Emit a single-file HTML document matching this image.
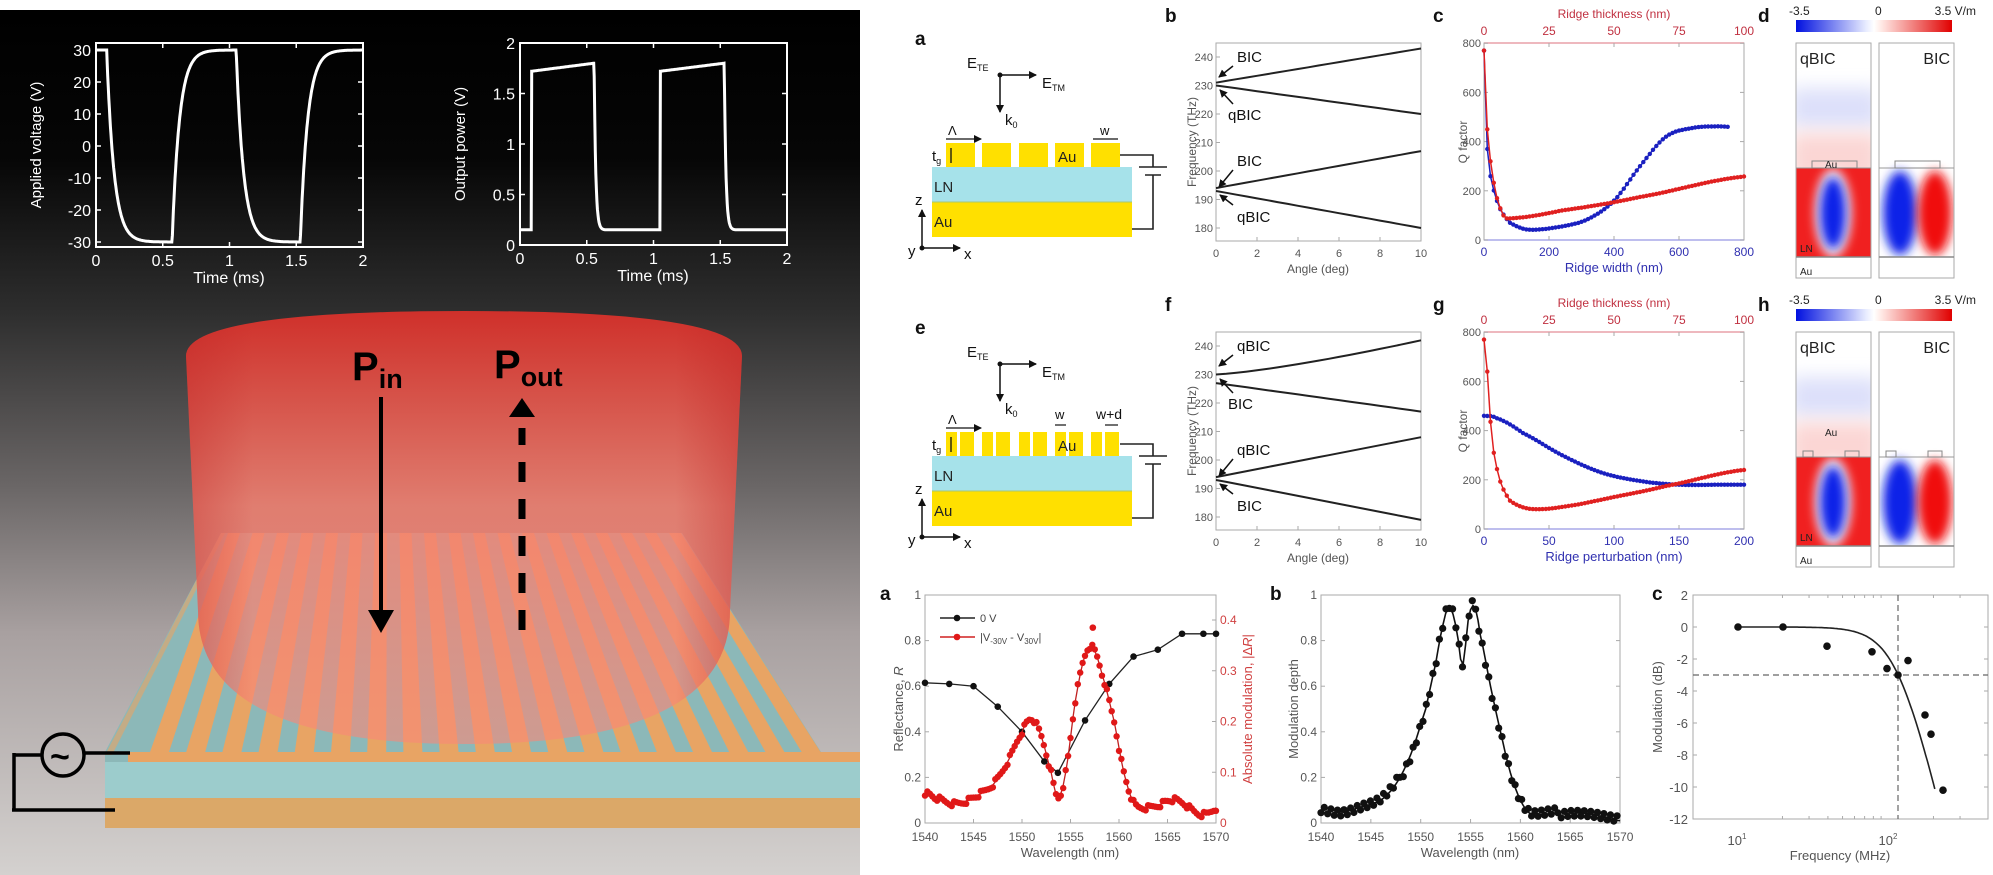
<!DOCTYPE html>
<html><head><meta charset="utf-8">
<style>
html,body{margin:0;padding:0;background:#fff;}
svg{display:block;}
text{font-family:"Liberation Sans",sans-serif;}
</style></head>
<body>
<svg id="s" width="1993" height="875" viewBox="0 0 1993 875" xmlns="http://www.w3.org/2000/svg">
<defs>
<linearGradient id="bg" x1="0" y1="0" x2="0" y2="1">
<stop offset="0" stop-color="#000"/>
<stop offset="0.17" stop-color="#060606"/>
<stop offset="0.35" stop-color="#2e2e2e"/>
<stop offset="0.55" stop-color="#6a6666"/>
<stop offset="0.72" stop-color="#a8a0a0"/>
<stop offset="1" stop-color="#d4d1cf"/>
</linearGradient>
<linearGradient id="cyl" x1="0" y1="0" x2="0" y2="1">
<stop offset="0" stop-color="#d8302a" stop-opacity="0.95"/>
<stop offset="0.45" stop-color="#f48070" stop-opacity="0.85"/>
<stop offset="1" stop-color="#f88878" stop-opacity="0.6"/>
</linearGradient>
<linearGradient id="cylside" x1="0" y1="0" x2="1" y2="0">
<stop offset="0" stop-color="#c02020" stop-opacity="0.35"/>
<stop offset="0.12" stop-color="#c02020" stop-opacity="0"/>
<stop offset="0.88" stop-color="#c02020" stop-opacity="0"/>
<stop offset="1" stop-color="#c02020" stop-opacity="0.4"/>
</linearGradient>
<linearGradient id="cb" x1="0" y1="0" x2="1" y2="0">
<stop offset="0" stop-color="#0010e0"/>
<stop offset="0.45" stop-color="#e8ecff"/>
<stop offset="0.5" stop-color="#fff"/>
<stop offset="0.55" stop-color="#ffe8e4"/>
<stop offset="1" stop-color="#e00000"/>
</linearGradient>
<filter id="bl" x="-50%" y="-50%" width="200%" height="200%"><feGaussianBlur stdDeviation="9"/></filter>
<filter id="bl2" x="-50%" y="-50%" width="200%" height="200%"><feGaussianBlur stdDeviation="5"/></filter>
<clipPath id="cq1"><rect x="1796" y="43" width="75" height="235"/></clipPath>
<clipPath id="cb1"><rect x="1879" y="43" width="75" height="235"/></clipPath>
<clipPath id="cq2"><rect x="1796" y="332" width="75" height="235"/></clipPath>
<clipPath id="cb2"><rect x="1879" y="332" width="75" height="235"/></clipPath>
<marker id="ah" markerWidth="8" markerHeight="8" refX="7" refY="4" orient="auto" markerUnits="userSpaceOnUse"><path d="M0,0 L8,4 L0,8 z" fill="#111"/></marker>
</defs>
<g id="g"></g>
</svg>
<script>
var o=[];
function P(s){o.push(s);}
function T(x,y,t,a){P('<text x="'+x+'" y="'+y+'" '+(a||'')+'>'+t+'</text>');}
function L(x1,y1,x2,y2,a){P('<line x1="'+x1+'" y1="'+y1+'" x2="'+x2+'" y2="'+y2+'" '+(a||'stroke="#111" stroke-width="1.5"')+'/>');}
function path(pts){var s='';for(var i=0;i<pts.length;i++){s+=(i?'L':'M')+pts[i][0].toFixed(1)+','+pts[i][1].toFixed(1);}return s;}
function interp(arr,x){for(var i=0;i<arr.length-1;i++){if(x<=arr[i+1][0]){var t=(x-arr[i][0])/(arr[i+1][0]-arr[i][0]);return arr[i][1]+t*(arr[i+1][1]-arr[i][1]);}}return arr[arr.length-1][1];}
function smooth(arr,x){ // catmull-rom
 var n=arr.length;for(var i=0;i<n-1;i++){if(x<=arr[i+1][0]||i==n-2){var p0=arr[Math.max(i-1,0)],p1=arr[i],p2=arr[i+1],p3=arr[Math.min(i+2,n-1)];var t=(x-p1[0])/(p2[0]-p1[0]);var t2=t*t,t3=t2*t;return 0.5*((2*p1[1])+(-p0[1]+p2[1])*t+(2*p0[1]-5*p1[1]+4*p2[1]-p3[1])*t2+(-p0[1]+3*p1[1]-3*p2[1]+p3[1])*t3);}}}

/* ===== LEFT PANEL ===== */
P('<rect x="0" y="10" width="860" height="865" fill="url(#bg)"/>');
// slab bottom orange
P('<polygon points="105,798 860,798 860,828 105,828" fill="#dba868"/>');
P('<polygon points="105,762 860,762 860,798 105,798" fill="#9ccccc"/>');
// slab top face (cyan)
P('<polygon points="221,533 682,533 821,752 860,752 860,762 105,762 105,752" fill="#8cb8b8"/>');
// stripes
var N=19;
for(var i=0;i<N;i++){var bx=228+i*24.5, fx=150+i*36.2;
 P('<polygon points="'+bx+',533 '+(bx+12)+',533 '+(fx+19)+',752 '+fx+',752" fill="#e8a464"/>');}
P('<polygon points="128,752 860,752 860,762 128,762" fill="#e8a464"/>');
P('<polygon points="105,755 221,533 225,533 112,755" fill="#e8a464" opacity="0.6"/>');
// cylinder
P('<path d="M186,356 Q186,311 464,311 Q742,311 742,356 L730,611 Q730,744 464,744 Q198,744 198,611 Z" fill="url(#cyl)"/>');
P('<path d="M186,356 Q186,311 464,311 Q742,311 742,356 L730,611 Q730,744 464,744 Q198,744 198,611 Z" fill="url(#cylside)"/>');
// arrows
P('<text x="352" y="380" font-size="40" font-weight="bold" fill="#000">P<tspan font-size="27" dy="8">in</tspan></text>');
P('<text x="494" y="378" font-size="40" font-weight="bold" fill="#000">P<tspan font-size="27" dy="8">out</tspan></text>');
L(381,397,381,612,'stroke="#000" stroke-width="4"');
P('<polygon points="368,610 394,610 381,633" fill="#000"/>');
L(522,630,522,428,'stroke="#000" stroke-width="7" stroke-dasharray="20,17"');
P('<polygon points="509,417 535,417 522,398" fill="#000"/>');
// circuit
P('<circle cx="63" cy="755" r="21" fill="none" stroke="#000" stroke-width="3.5"/>');
T(50,768,'~','font-size="34" font-weight="bold" fill="#000"');
L(84,753,130,753,'stroke="#000" stroke-width="3.5"');
L(42,755,14,755,'stroke="#000" stroke-width="3.5"');
L(14,753,14,811,'stroke="#000" stroke-width="3.5"');
L(12,810,115,810,'stroke="#000" stroke-width="3.5"');
// insets
function inset(x0,yT,yB,ylab,ticks,fy,data){
 P('<rect x="'+x0+'" y="'+yT+'" width="267" height="'+(yB-yT)+'" fill="none" stroke="#fff" stroke-width="2"/>');
 for(var t=0;t<=4;t++){var x=x0+t*66.75;L(x,yB,x,yB-5,'stroke="#fff" stroke-width="1.5"');L(x,yT,x,yT+5,'stroke="#fff" stroke-width="1.5"');
  T(x,yB+19,['0','0.5','1','1.5','2'][t],'font-size="16" fill="#fff" text-anchor="middle" font-family="DejaVu Sans"');}
 ticks.forEach(function(v){var y=fy(v);L(x0,y,x0+5,y,'stroke="#fff" stroke-width="1.5"');L(x0+267,y,x0+262,y,'stroke="#fff" stroke-width="1.5"');
  T(x0-5,y+6,v,'font-size="16" fill="#fff" text-anchor="end" font-family="DejaVu Sans"');});
 T(x0+133,yB+36,'Time (ms)','font-size="16" fill="#fff" text-anchor="middle" font-family="DejaVu Sans"');
 var cy=(yT+yB)/2;T(x0-55,cy,ylab,'font-size="15" fill="#fff" text-anchor="middle" transform="rotate(-90 '+(x0-55)+' '+cy+')"');
 P('<path d="'+path(data)+'" fill="none" stroke="#fff" stroke-width="3"/>');
}
var d1=[],d2=[];
function volt(t){var tau=0.055;
 if(t<0.08)return 30; if(t<0.57)return -30+60*Math.exp(-(t-0.08)/tau);
 var vA=-30+60*Math.exp(-(0.49)/tau);
 if(t<1.05)return 30-(30-vA)*Math.exp(-(t-0.57)/tau);
 var vB=30-(30-vA)*Math.exp(-0.48/tau);
 if(t<1.53)return -30+(vB+30)*Math.exp(-(t-1.05)/tau);
 var vC=-30+(vB+30)*Math.exp(-0.48/tau);
 return 30-(30-vC)*Math.exp(-(t-1.53)/tau);}
function pw(t){if(t<0.085)return 0.15; if(t<0.555)return 1.72+0.08*(t-0.085)/0.47;
 if(t<1.05)return 0.15+1.65*Math.exp(-(t-0.555)/0.012); if(t<1.53)return 1.72+0.08*(t-1.05)/0.48;
 return 0.15+1.65*Math.exp(-(t-1.53)/0.012);}
for(var t=0;t<=2.0001;t+=0.004){d1.push([96+t*133.5,146-volt(t)*3.2]);d2.push([520+t*133.5,245-pw(t)*101]);}
// sharpen vertical steps for pw
inset(96,43,247,'Applied voltage (V)',[30,20,10,0,-10,-20,-30],function(v){return 146-v*3.2;},d1);
inset(520,43,245,'Output power (V)',[0,0.5,1,1.5,2],function(v){return 245-v*101;},d2);

/* ===== RIGHT: schematic a / e ===== */
function schem(R,e){
 T(915,45+R,e?'e':'a','font-size="19" font-weight="bold" fill="#111"');
 T(967,68+R,'E<tspan font-size="9" dy="3">TE</tspan>','font-size="15" fill="#111"');
 L(1000,75+R,1036,75+R,'stroke="#111" stroke-width="1.5" marker-end="url(#ah)"');
 L(1000,75+R,1000,112+R,'stroke="#111" stroke-width="1.5" marker-end="url(#ah)"');
 P('<circle cx="1000" cy="75'.replace('75',75+R)+'" r="2.5" fill="#111"/>');
 T(1042,88+R,'E<tspan font-size="9" dy="3">TM</tspan>','font-size="15" fill="#111"');
 T(1005,125+R,'k<tspan font-size="9" dy="3">0</tspan>','font-size="15" fill="#111"');
 P('<rect x="932" y="'+(167+R)+'" width="200" height="35" fill="#a6e2ea"/>');
 P('<rect x="932" y="'+(202+R)+'" width="200" height="35" fill="#ffe000"/>');
 L(932,202+R,1132,202+R,'stroke="#a8c870" stroke-width="1"');
 var xs=[946,982,1019,1055,1091];
 xs.forEach(function(x){ if(!e){P('<rect x="'+x+'" y="'+(143+R)+'" width="29" height="24" fill="#ffe000"/>');}
  else{P('<rect x="'+x+'" y="'+(143+R)+'" width="11" height="24" fill="#ffe000"/><rect x="'+(x+14)+'" y="'+(143+R)+'" width="14" height="24" fill="#ffe000"/>');}});
 T(1058,162+R,'Au','font-size="15" fill="#222"');
 T(934,192+R,'LN','font-size="15" fill="#222"');
 T(934,227+R,'Au','font-size="15" fill="#222"');
 T(932,161+R,'t<tspan font-size="9" dy="3">g</tspan>','font-size="15" fill="#111"');
 L(951,148+R,951,163+R,'stroke="#111" stroke-width="1.3"');
 T(948,135+R,'Λ','font-size="13" fill="#111"');
 L(946,139+R,981,139+R,'stroke="#111" stroke-width="1.3" marker-end="url(#ah)"');
 if(!e){T(1100,135+R,'w','font-size="13" fill="#111"');L(1093,139+R,1118,139+R,'stroke="#111" stroke-width="1.3"');}
 else{T(1055,130+R,'w','font-size="13" fill="#111"');T(1096,130+R,'w+d','font-size="14" fill="#111"');
  L(1055,136+R,1066,136+R,'stroke="#111" stroke-width="1.2"');L(1105,136+R,1118,136+R,'stroke="#111" stroke-width="1.2"');}
 // battery wiring
 P('<path d="M1120,'+(155+R)+' H1153 V'+(167+R)+' M1139,'+(167+R)+' H1167 M1145,'+(175+R)+' H1161 M1153,'+(175+R)+' V'+(229+R)+' H1132" fill="none" stroke="#222" stroke-width="1.6"/>');
 // axes
 L(922,248+R,960,248+R,'stroke="#111" stroke-width="1.5" marker-end="url(#ah)"');
 L(922,248+R,922,210+R,'stroke="#111" stroke-width="1.5" marker-end="url(#ah)"');
 P('<circle cx="922" cy="'+(248+R)+'" r="2.5" fill="#111"/>');
 T(915,205+R,'z','font-size="15" fill="#111"');T(908,256+R,'y','font-size="15" fill="#111"');T(964,259+R,'x','font-size="15" fill="#111"');
}
schem(0,false);schem(289,true);

/* ===== band diagrams b / f ===== */
function band(R,lab,lines,ann){
 T(1165,22+R,lab,'font-size="19" font-weight="bold" fill="#111"');
 P('<rect x="1216" y="'+(43+R)+'" width="205" height="198" fill="none" stroke="#aaa" stroke-width="1"/>');
 var fy=function(v){return 57+R+(240-v)*2.85;};
 [180,190,200,210,220,230,240].forEach(function(v){L(1216,fy(v),1220,fy(v),'stroke="#aaa"');T(1213,fy(v)+4,v,'font-size="11" fill="#555" text-anchor="end"');});
 for(var a=0;a<=10;a+=2){var x=1216+a*20.5;L(x,241+R,x,237+R,'stroke="#aaa"');T(x,257+R,a,'font-size="11" fill="#555" text-anchor="middle"');}
 T(1318,273+R,'Angle (deg)','font-size="12" fill="#555" text-anchor="middle"');
 T(1196,142+R,'Frequency (THz)','font-size="12" fill="#555" text-anchor="middle" transform="rotate(-90 1196 '+(142+R)+')"');
 lines.forEach(function(l){var pts=[];for(var a=0;a<=10;a+=0.5){var v=l[0]+(l[1]-l[0])*(l[2]?Math.pow(a/10,1.3):a/10);pts.push([1216+a*20.5,fy(v)]);}
  P('<path d="'+path(pts)+'" fill="none" stroke="#222" stroke-width="2"/>');});
 ann.forEach(function(n){T(n[0],n[1]+R,n[2],'font-size="15" fill="#111"');L(n[3],n[4]+R,n[5],n[6]+R,'stroke="#111" stroke-width="1.5" marker-end="url(#ah)"');});
}
band(0,'b',[[231,243],[230,220],[194,207],[193,180]],[[1237,62,'BIC',1233,66,1219,77],[1228,120,'qBIC',1233,104,1220,90],[1237,166,'BIC',1233,170,1219,187],[1237,222,'qBIC',1233,205,1220,195]]);
band(289,'f',[[230,242,1],[227,217],[194,208],[193,179]],[[1237,62,'qBIC',1233,66,1219,77],[1228,120,'BIC',1233,104,1220,90],[1237,166,'qBIC',1233,170,1219,187],[1237,222,'BIC',1233,205,1220,195]]);

/* ===== Q factor plots c / g ===== */
function qplot(R,lab,xmax,xlab,red,blue,bend){
 T(1433,22+R,lab,'font-size="19" font-weight="bold" fill="#111"');
 var x0=1484,x1=1744,yT=43+R,yB=240+R;
 P('<rect x="'+x0+'" y="'+yT+'" width="260" height="197" fill="none" stroke="#aaa" stroke-width="1"/>');
 L(x0,yT,x1,yT,'stroke="#e8a0a8" stroke-width="1.5"');L(x0,yB,x1,yB,'stroke="#a8a8e8" stroke-width="1.5"');
 var fy=function(q){return yB-q*0.246;};
 [0,200,400,600,800].forEach(function(q){L(x0,fy(q),x0+4,fy(q),'stroke="#aaa"');L(x1,fy(q),x1-4,fy(q),'stroke="#aaa"');T(x0-3,fy(q)+4,q,'font-size="11" fill="#555" text-anchor="end"');});
 for(var i=0;i<=4;i++){var x=x0+i*65;T(x,yB+16,xmax*i/4,'font-size="12" fill="#3030b0" text-anchor="middle"');T(x,yT-8,25*i,'font-size="12" fill="#c03040" text-anchor="middle"');L(x,yB,x,yB-4,'stroke="#aaa"');L(x,yT,x,yT+4,'stroke="#aaa"');}
 T(1614,yT-25,'Ridge thickness (nm)','font-size="12" fill="#c03040" text-anchor="middle"');
 T(1614,yB+32,xlab,'font-size="13" fill="#3030b0" text-anchor="middle"');
 T(1467,142+R,'Q factor','font-size="12" fill="#555" text-anchor="middle" transform="rotate(-90 1467 '+(142+R)+')"');
 function draw(arr,col,end){var pts=[],dots='';for(var u=0;u<=end;u+=0.0125){var q=smooth(arr,u);pts.push([x0+u*260,fy(q)]);dots+='<circle cx="'+(x0+u*260).toFixed(1)+'" cy="'+fy(q).toFixed(1)+'" r="2.2" fill="'+col+'"/>';}
  P('<path d="'+path(pts)+'" fill="none" stroke="'+col+'" stroke-width="1.5"/>'+dots);}
 draw(blue,'#1a20c0',bend);draw(red,'#e02020',1);
}
qplot(0,'c',800,'Ridge width (nm)',
 [[0,770],[0.0125,450],[0.03,280],[0.05,170],[0.075,100],[0.1,88],[0.3,120],[0.6,175],[1,258]],
 [[0,770],[0.0125,370],[0.03,230],[0.06,130],[0.1,70],[0.17,42],[0.3,55],[0.4,85],[0.5,160],[0.6,300],[0.7,420],[0.8,455],[0.9,462],[0.94,460]],0.94);
qplot(289,'g',200,'Ridge perturbation (nm)',
 [[0,770],[0.0125,640],[0.03,360],[0.06,200],[0.1,115],[0.175,82],[0.3,90],[0.5,130],[0.7,175],[1,240]],
 [[0,460],[0.05,450],[0.15,390],[0.3,300],[0.45,230],[0.6,195],[0.75,180],[0.9,180],[1,180]],1);

/* ===== field maps d / h ===== */
function field(R,lab,q,b){
 T(1758,22+R,lab,'font-size="19" font-weight="bold" fill="#111"');
 P('<rect x="1796" y="'+(20+R)+'" width="156" height="12" fill="url(#cb)"/>');
 T(1789,15+R,'-3.5','font-size="12" fill="#222"');T(1875,15+R,'0','font-size="12" fill="#222"');T(1976,15+R,'3.5 V/m','font-size="12" fill="#222" text-anchor="end"');
 var yT=43+R, yAu=168+R, yLN=257+R, yB=278+R;
 P('<g clip-path="url(#'+q+')">');
 P('<rect x="1796" y="'+yT+'" width="75" height="235" fill="#fff"/>');
 P('<rect x="1790" y="'+(yT+45)+'" width="90" height="40" fill="#dde0fa" filter="url(#bl)"/>');
 P('<rect x="1790" y="'+(yAu-35)+'" width="90" height="50" fill="#fbd6d4" filter="url(#bl)"/>');
 P('<rect x="1796" y="'+yAu+'" width="75" height="'+(yLN-yAu)+'" fill="#f02020"/>');
 P('<ellipse cx="1833" cy="'+(yAu+45)+'" rx="18" ry="44" fill="#fff" filter="url(#bl2)"/>');
 P('<ellipse cx="1833" cy="'+(yAu+45)+'" rx="13" ry="36" fill="#1020e8" filter="url(#bl2)"/>');
 P('<rect x="1796" y="'+yLN+'" width="75" height="21" fill="#fff"/>');
 P('</g>');
 P('<g clip-path="url(#'+b+')">');
 P('<rect x="1879" y="'+yT+'" width="75" height="235" fill="#fff"/>');
 P('<ellipse cx="1900" cy="'+(yAu+45)+'" rx="17" ry="42" fill="#1020e8" filter="url(#bl2)"/>');
 P('<ellipse cx="1935" cy="'+(yAu+45)+'" rx="17" ry="42" fill="#f01010" filter="url(#bl2)"/>');
 P('<rect x="1879" y="'+yLN+'" width="75" height="21" fill="#fff"/>');
 P('</g>');
 P('<rect x="1796" y="'+yT+'" width="75" height="235" fill="none" stroke="#aaa"/>');
 P('<rect x="1879" y="'+yT+'" width="75" height="235" fill="none" stroke="#aaa"/>');
 L(1796,yAu,1871,yAu,'stroke="#999"');L(1879,yAu,1954,yAu,'stroke="#999"');
 L(1796,yLN,1871,yLN,'stroke="#888" stroke-width="1.5"');L(1879,yLN,1954,yLN,'stroke="#888" stroke-width="1.5"');
 T(1800,64+R,'qBIC','font-size="16" fill="#222"');T(1950,64+R,'BIC','font-size="16" fill="#222" text-anchor="end"');
 T(1800,252+R,'LN','font-size="10" fill="#222"');T(1800,275+R,'Au','font-size="10" fill="#222"');
}
field(0,'d','cq1','cb1');field(289,'h','cq2','cb2');
P('<rect x="1812" y="161" width="45" height="7" fill="none" stroke="#888"/><text x="1825" y="168" font-size="10" fill="#222">Au</text>');
P('<rect x="1895" y="161" width="45" height="7" fill="none" stroke="#888"/>');
P('<rect x="1803" y="451" width="10" height="6" fill="none" stroke="#888"/><rect x="1845" y="451" width="14" height="6" fill="none" stroke="#888"/><text x="1825" y="436" font-size="10" fill="#222">Au</text>');
P('<rect x="1886" y="451" width="10" height="6" fill="none" stroke="#888"/><rect x="1928" y="451" width="14" height="6" fill="none" stroke="#888"/>');

/* ===== bottom a ===== */
var ax0=925,ax1=1216,ayT=595,ayB=823;
T(880,600,'a','font-size="19" font-weight="bold" fill="#111"');
P('<rect x="'+ax0+'" y="'+ayT+'" width="291" height="228" fill="none" stroke="#aaa"/>');
function wx(w){return ax0+(w-1540)*9.7;}
for(var w=1540;w<=1570;w+=5){T(wx(w),841,w,'font-size="12" fill="#555" text-anchor="middle"');L(wx(w),ayB,wx(w),ayB-4,'stroke="#aaa"');}
[0,0.2,0.4,0.6,0.8,1].forEach(function(v){var y=ayB-v*228;T(ax0-4,y+4,v,'font-size="12" fill="#555" text-anchor="end"');L(ax0,y,ax0+4,y,'stroke="#aaa"');});
[0,0.1,0.2,0.3,0.4].forEach(function(v){var y=ayB-v*507.5;T(ax1+4,y+4,v,'font-size="12" fill="#d04040"');L(ax1,y,ax1-4,y,'stroke="#aaa"');});
T(1070,857,'Wavelength (nm)','font-size="13" fill="#555" text-anchor="middle"');
T(903,709,'Reflectance, <tspan font-style="italic">R</tspan>','font-size="13" fill="#555" text-anchor="middle" transform="rotate(-90 903 709)"');
T(1252,709,'Absolute modulation, |Δ<tspan font-style="italic">R</tspan>|','font-size="13" fill="#d04040" text-anchor="middle" transform="rotate(-90 1252 709)"');
var blk=[[1540,0.615],[1542.5,0.61],[1545,0.6],[1547.5,0.51],[1550,0.4],[1552.3,0.27],[1553.7,0.22],[1556.5,0.45],[1559,0.61],[1561.5,0.73],[1564,0.76],[1566.5,0.83],[1568.7,0.83],[1570,0.83]];
var s='';blk.forEach(function(p){s+='<circle cx="'+wx(p[0])+'" cy="'+(ayB-p[1]*228)+'" r="3.3" fill="#111"/>';});
P('<path d="'+path(blk.map(function(p){return [wx(p[0]),ayB-p[1]*228];}))+'" fill="none" stroke="#222" stroke-width="1.3"/>'+s);
var red=[[1540,0.06],[1541,0.05],[1543,0.038],[1545,0.05],[1547,0.075],[1548.5,0.12],[1550,0.18],[1551,0.205],[1552,0.17],[1553,0.1],[1553.7,0.05],[1554.5,0.1],[1555.5,0.24],[1556.5,0.33],[1557.3,0.345],[1558.3,0.29],[1559.5,0.2],[1560.5,0.1],[1561.5,0.04],[1562.5,0.03],[1564,0.035],[1565.3,0.045],[1566.5,0.04],[1568,0.02],[1569,0.018],[1570,0.03]];
var rp=[],rd='';
for(var w=1540;w<=1570;w+=0.25){var m=smooth(red,w);rp.push([wx(w),ayB-m*507.5]);var j=((w*7.3)%1-0.5)*0.012;rd+='<circle cx="'+wx(w).toFixed(1)+'" cy="'+(ayB-(m+j)*507.5).toFixed(1)+'" r="3.2" fill="#e01818"/>';}
rd+='<circle cx="'+wx(1557.3)+'" cy="'+(ayB-0.385*507.5)+'" r="3.3" fill="#e01818"/>';
P('<path d="'+path(rp)+'" fill="none" stroke="#c02020" stroke-width="1.3"/>'+rd);
// legend
L(940,618,975,618,'stroke="#222" stroke-width="1.5"');P('<circle cx="957" cy="618" r="3.3" fill="#111"/>');T(980,622,'0 V','font-size="11" fill="#444"');
L(940,637,975,637,'stroke="#d02020" stroke-width="1.5"');P('<circle cx="957" cy="637" r="3.3" fill="#e01818"/>');
T(980,641,'|V<tspan font-size="8" dy="3">-30V</tspan><tspan dy="-3"> - V</tspan><tspan font-size="8" dy="3">30V</tspan><tspan dy="-3">|</tspan>','font-size="11" fill="#444"');

/* ===== bottom b ===== */
var bx0=1321,bx1=1620;
T(1270,600,'b','font-size="19" font-weight="bold" fill="#111"');
P('<rect x="'+bx0+'" y="595" width="299" height="228" fill="none" stroke="#aaa"/>');
function wb(w){return bx0+(w-1540)*9.97;}
for(var w=1540;w<=1570;w+=5){T(wb(w),841,w,'font-size="12" fill="#555" text-anchor="middle"');L(wb(w),823,wb(w),819,'stroke="#aaa"');}
[0,0.2,0.4,0.6,0.8,1].forEach(function(v){var y=823-v*228;T(bx0-4,y+4,v,'font-size="12" fill="#555" text-anchor="end"');L(bx0,y,bx0+4,y,'stroke="#aaa"');L(bx1,y,bx1-4,y,'stroke="#aaa"');});
T(1470,857,'Wavelength (nm)','font-size="13" fill="#555" text-anchor="middle"');
T(1298,709,'Modulation depth','font-size="13" fill="#555" text-anchor="middle" transform="rotate(-90 1298 709)"');
var md=[[1540,0.07],[1542,0.05],[1544,0.07],[1546,0.1],[1547.5,0.17],[1549,0.3],[1550.5,0.5],[1551.5,0.7],[1552.3,0.88],[1552.9,0.95],[1553.6,0.85],[1554.2,0.69],[1554.8,0.9],[1555.4,0.95],[1556,0.82],[1557,0.6],[1558,0.4],[1559,0.22],[1560,0.1],[1561,0.04],[1563,0.04],[1565,0.05],[1567,0.04],[1570,0.01]];
var bp=[],bd='';
for(var w=1540;w<=1570;w+=0.25){var m=smooth(md,w);bp.push([wb(w),823-m*228]);}
for(var w=1540;w<=1570;w+=0.33){var m=smooth(md,w);var j=((w*13.7)%1-0.5)*0.05;bd+='<circle cx="'+wb(w).toFixed(1)+'" cy="'+(823-(m+j)*228).toFixed(1)+'" r="3.6" fill="#111"/>';}
P('<path d="'+path(bp)+'" fill="none" stroke="#111" stroke-width="1.6"/>'+bd);

/* ===== bottom c ===== */
var cx0=1693,cx1=1988;
T(1652,600,'c','font-size="19" font-weight="bold" fill="#111"');
P('<rect x="'+cx0+'" y="595" width="295" height="224" fill="none" stroke="#aaa"/>');
function cy(d){return 627-d*16;} function cf(f){return 1737+151*Math.log10(f/10);}
for(var d=-12;d<=2;d+=2){T(cx0-5,cy(d)+5,d,'font-size="13" fill="#555" text-anchor="end"');L(cx0,cy(d),cx0+4,cy(d),'stroke="#aaa"');L(cx1,cy(d),cx1-4,cy(d),'stroke="#aaa"');}
[[1737,'1'],[1888,'2']].forEach(function(a){T(a[0],845,'10<tspan font-size="8" dy="-6">'+a[1]+'</tspan>','font-size="13" fill="#555" text-anchor="middle"');});
[20,30,40,50,60,70,80,90,200,300].forEach(function(f){var x=cf(f);if(x<cx1){L(x,819,x,816,'stroke="#aaa"');L(x,595,x,598,'stroke="#aaa"');}});
T(1840,860,'Frequency (MHz)','font-size="13" fill="#555" text-anchor="middle"');
T(1662,707,'Modulation (dB)','font-size="13" fill="#555" text-anchor="middle" transform="rotate(-90 1662 707)"');
L(cx0,675,cx1,675,'stroke="#666" stroke-width="1.2" stroke-dasharray="6,4"');
L(1898,595,1898,819,'stroke="#666" stroke-width="1.2" stroke-dasharray="6,4"');
var cp=[];for(var lf=1;lf<=2.312;lf+=0.01){var f=Math.pow(10,lf);cp.push([cf(f),cy(-10*Math.log10(1+Math.pow(f/117,4)))]);}
P('<path d="'+path(cp)+'" fill="none" stroke="#222" stroke-width="1.6"/>');
[[1738,0],[1783,0],[1827,-1.2],[1872,-1.55],[1887,-2.6],[1898,-3],[1908,-2.1],[1925,-5.5],[1931,-6.7],[1943,-10.2]].forEach(function(p){P('<circle cx="'+p[0]+'" cy="'+cy(p[1])+'" r="3.8" fill="#111"/>');});

document.getElementById('g').innerHTML=o.join('');
</script>
</body></html>
